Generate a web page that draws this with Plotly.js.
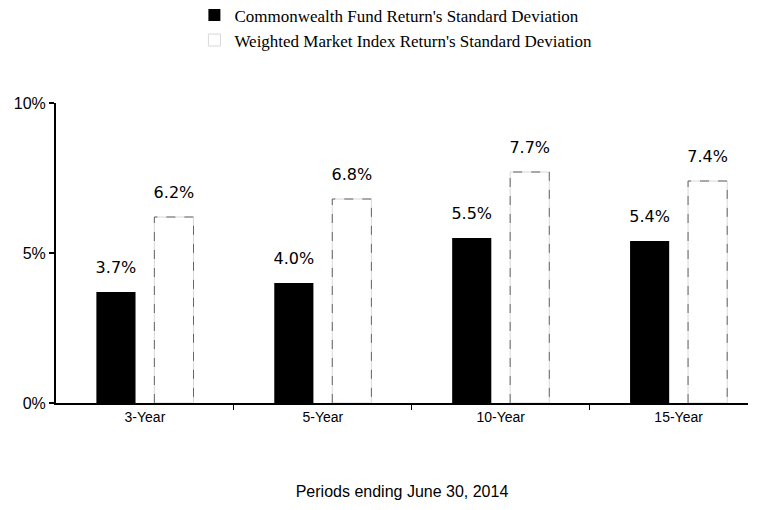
<!DOCTYPE html>
<html>
<head>
<meta charset="utf-8">
<script src="https://cdn.plot.ly/plotly-3.0.1.min.js"></script>
<style>html,body{margin:0;padding:0;background:#fff;}#chart{width:764px;height:510px;}</style>
</head>
<body>
<div id="chart"></div>
<script>
var categories = ["3-Year", "5-Year", "10-Year", "15-Year"];
var fundValues = [3.7, 4.0, 5.5, 5.4];
var indexValues = [6.2, 6.8, 7.7, 7.4];
var fundName = "Commonwealth Fund Return's Standard Deviation";
var indexName = "Weighted Market Index Return's Standard Deviation";
var yTickVals = [0, 5, 10];
var yTickText = ["0%", "5%", "10%"];
var xTitle = "Periods ending June 30, 2014";

var pos = categories.map(function(c, i){ return i; });
var barW = 0.22, fundOff = -0.273, idxOff = 0.053;

// dashed outline of index bars, derived from data
var ox = [], oy = [];
indexValues.forEach(function(v, i){
  var a = i + idxOff, b = i + idxOff + barW;
  ox.push(a, a, b, b, null);
  oy.push(0, v, v, 0, null);
});

var labelFont = {family: "DejaVu Sans, sans-serif", size: 16, color: "#000"};
function labelTrace(vals, off){
  return {type: "scatter", mode: "markers+text", showlegend: false, hoverinfo: "skip",
    x: pos.map(function(p){ return p + off + barW / 2; }), y: vals,
    marker: {size: 22, opacity: 0},
    text: vals.map(function(v){ return v.toFixed(1) + "%"; }),
    textposition: "top center", textfont: labelFont, cliponaxis: false};
}

var traces = [
  {type: "bar", name: fundName, x: pos, y: fundValues, width: barW, offset: fundOff,
   marker: {color: "#000", line: {width: 0}}, hoverinfo: "skip"},
  {type: "bar", name: indexName, x: pos, y: indexValues, width: barW, offset: idxOff,
   marker: {color: "#fff", line: {width: 1, color: "#d8d8d8"}}, hoverinfo: "skip"},
  {type: "scatter", mode: "lines", x: ox, y: oy, showlegend: false, hoverinfo: "skip",
   line: {color: "#666", width: 1, dash: "dash"}, connectgaps: false, cliponaxis: false},
  labelTrace(fundValues, fundOff),
  labelTrace(indexValues, idxOff)
];

var layout = {
  width: 764, height: 510,
  margin: {l: 56, r: 16, t: 103, b: 107, autoexpand: false},
  paper_bgcolor: "#fff", plot_bgcolor: "#fff",
  showlegend: true,
  legend: {orientation: "v", x: 0.2, xanchor: "left", y: 1.352, yanchor: "top",
           font: {family: "Liberation Serif, serif", size: 17, color: "#000"},
           traceorder: "normal", tracegroupgap: 0, bgcolor: "rgba(0,0,0,0)"},
  xaxis: {range: [-0.5, 3.39], tickmode: "array", tickvals: pos, ticktext: categories,
          ticks: "", showline: true, linecolor: "#000", linewidth: 2, showgrid: false, zeroline: false,
          tickfont: {family: "Liberation Sans, Arial, sans-serif", size: 14, color: "#000"},
          minor: {tickmode: "array", tickvals: pos.slice(1).map(function(p){ return p - 0.5; }),
                  ticks: "outside", ticklen: 5, tickwidth: 1, tickcolor: "#000", showgrid: false},
          title: {text: xTitle, standoff: 62,
                  font: {family: "Liberation Sans, Arial, sans-serif", size: 16, color: "#000"}}},
  yaxis: {range: [0, 10], tickmode: "array", tickvals: yTickVals, ticktext: yTickText,
          ticks: "outside", ticklen: 5, tickwidth: 2, tickcolor: "#000",
          showline: true, linecolor: "#000", linewidth: 2, showgrid: false, zeroline: false,
          tickfont: {family: "Liberation Sans, Arial, sans-serif", size: 16, color: "#000"}}
};

Plotly.newPlot("chart", traces, layout, {staticPlot: true});
</script>
</body>
</html>
